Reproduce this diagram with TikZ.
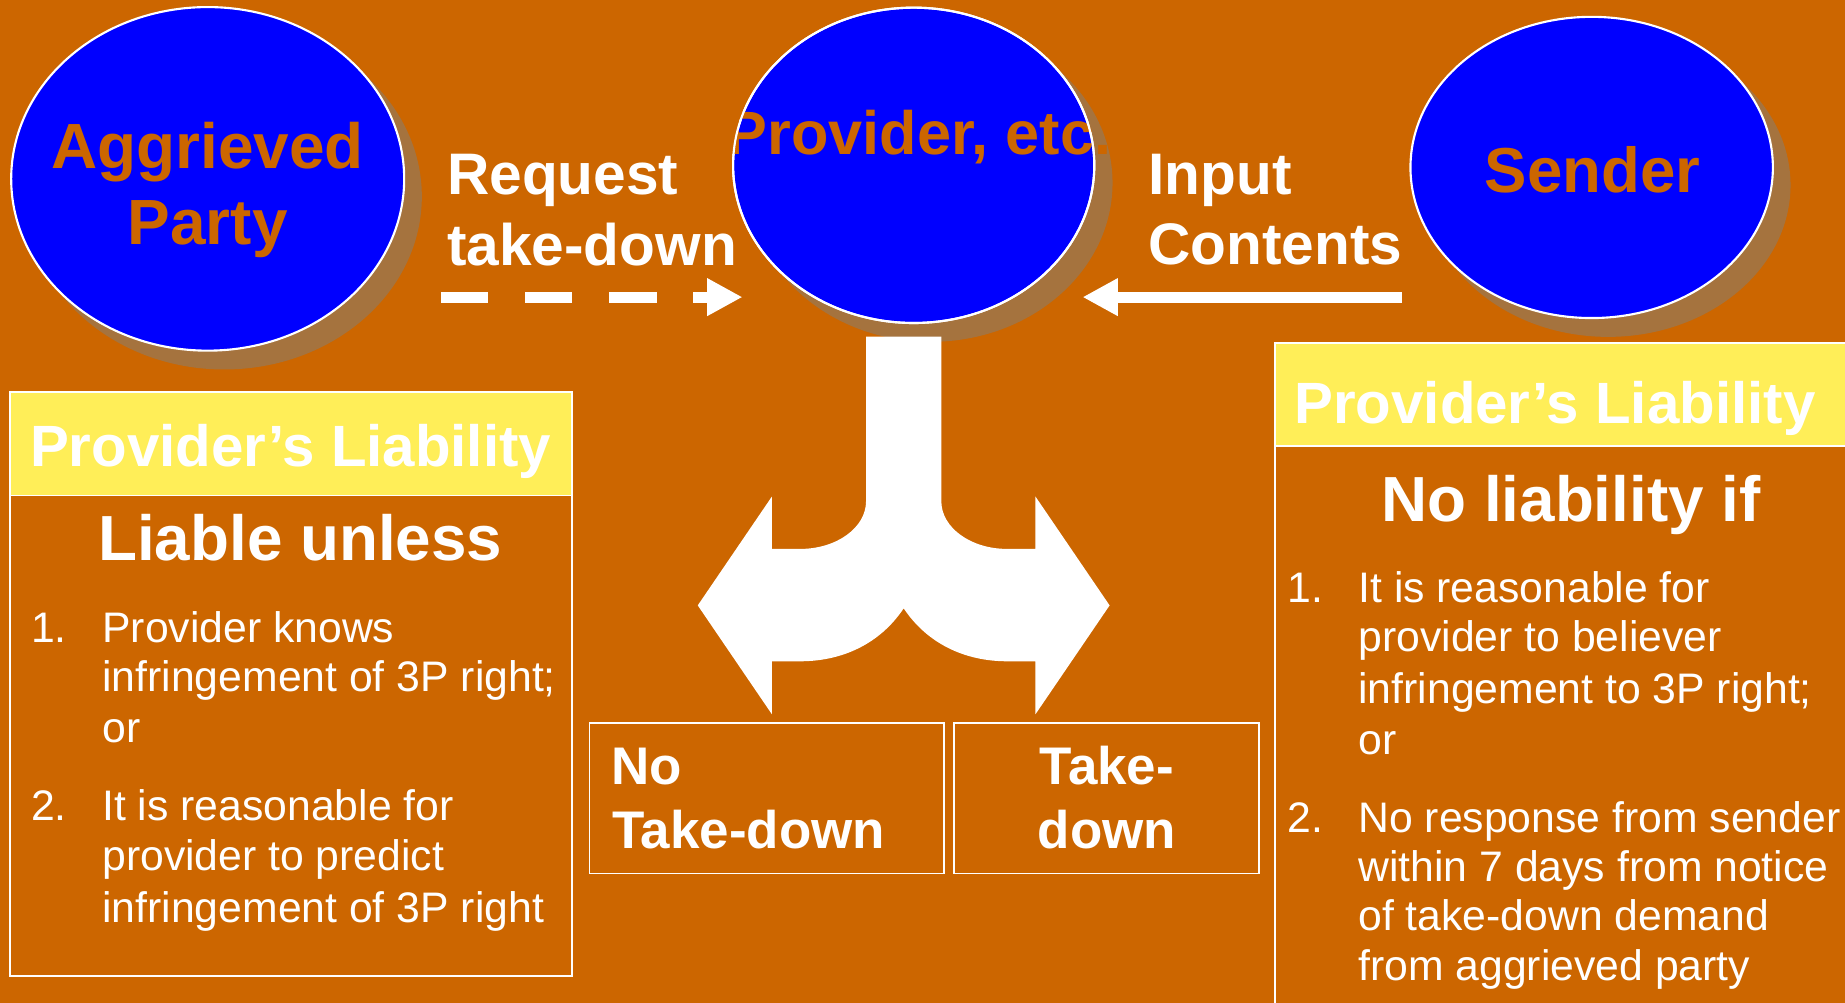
\documentclass[tikz,border=0pt]{standalone}
\usepackage{fontspec}
\setmainfont{Liberation Sans}
\usetikzlibrary{shapes.geometric,arrows.meta}
\definecolor{bg}{HTML}{CC6600}
\definecolor{shad}{HTML}{A5733E}
\definecolor{yel}{HTML}{FFEE58}
\definecolor{blu}{HTML}{0000FF}
\begin{document}
\begin{tikzpicture}[x=1pt,y=-1pt,
  every node/.style={inner sep=0pt, outer sep=0pt},
  bubble/.style={ellipse, fill=blu, draw=white, line width=1.8pt},
  ring/.style={ellipse, draw=white, line width=1.8pt},
  bshadow/.style={ellipse, fill=shad},
  bubtext/.style={text=bg, anchor=base, font=\bfseries\fontsize{54.3}{60}\selectfont},
  lbl/.style={text=white, anchor=base west, font=\bfseries\fontsize{49.8}{55}\selectfont},
  headtxt/.style={text=white, anchor=base west, font=\bfseries\fontsize{49.5}{55}\selectfont},
  subtxt/.style={text=white, anchor=base west, font=\bfseries\fontsize{54.2}{60}\selectfont},
  itemtxt/.style={text=white, anchor=base west, font=\fontsize{36.3}{43}\selectfont},
  outtxt/.style={text=white, anchor=base west, font=\bfseries\fontsize{45}{54}\selectfont},
  panel/.style={rectangle, draw=white, line width=1.5pt, anchor=north west},
  headbar/.style={rectangle, fill=yel, draw=white, line width=1.5pt, anchor=north west},
  arr/.style={white, line width=9.3pt, -{Triangle[length=30pt 0, width=30pt 0]}}
]
\useasboundingbox (0,0) rectangle (1568,852);
\clip (0,0) rectangle (1568,852);
\fill[bg] (0,0) rectangle (1568,852);

% shadows
\node[bshadow, minimum width=336pt, minimum height=294pt] (aggsh) at (190.5,167) {};
\node[bshadow, minimum width=309pt, minimum height=270pt] (provsh) at (791,155.5) {};
\node[bshadow, minimum width=310pt, minimum height=258pt] (sendsh) at (1366.7,157.3) {};

% bubbles
\node[bubble, minimum width=334pt, minimum height=292pt] (agg) at (176.5,152) {};
\node[bubble, minimum width=307pt, minimum height=268pt] (prov) at (776.5,140.5) {};
\node[bubble, minimum width=308pt, minimum height=256pt] (send) at (1352.7,142.3) {};

\node[bubtext] (aggt1) at (176.5,143) {Aggrieved};
\node[bubtext] (aggt2) at (176.5,208.2) {Party};
\node[bubtext, font=\bfseries\fontsize{52}{56}\selectfont] (provt) at (781,131.7) {Provider, etc.};
\node[ring, minimum width=307pt, minimum height=268pt] (provring) at (prov.center) {};
\node[bubtext, font=\bfseries\fontsize{54}{60}\selectfont] (sendt) at (1353.4,163.5) {Sender};

% arrow labels
\node[lbl] (req1) at (380,165.7) {Request};
\node[lbl] (req2) at (380,225.8) {take-down};
\node[lbl] (inp1) at (976,165.7) {Input};
\node[lbl] (inp2) at (976,225.2) {Contents};

% arrows
\coordinate (reqS) at (374.7,252.5);
\coordinate (reqE) at (631,252.5);
\coordinate (inS) at (1191.3,252.5);
\coordinate (inE) at (920,252.5);
\draw[arr, dash pattern=on 40.3pt off 31.2pt] (reqS) -- (reqE);
\draw[arr] (inS) -- (inE);

% branching arrow
\fill[white] (736,286) -- (736,426) .. controls (736,448.4) and (711,466.5) .. (680,466.5)
  -- (656,466.5) -- (656,422) -- (593,514.5) -- (656,607) -- (656,562) -- (680,562)
  .. controls (716,562) and (748,547) .. (768,517)
  .. controls (788,547) and (820,562) .. (856,562)
  -- (880,562) -- (880,607) -- (943,514.5) -- (880,422) -- (880,466.5) -- (856,466.5)
  .. controls (825,466.5) and (800,448.4) .. (800,426) -- (800,286) -- cycle;

% outcome boxes
\node[panel, minimum width=301pt, minimum height=128pt] (notd) at (501,614.3) {};
\node[panel, minimum width=259pt, minimum height=128pt] (td) at (811,614.3) {};
\node[outtxt] (notd1) at (519.5,667) {No};
\node[outtxt] (notd2) at (520.5,721) {Take-down};
\node[outtxt] (td1) at (883.5,667) {Take-};
\node[outtxt] (td2) at (882,721) {down};

% left panel
\node[panel, minimum width=477pt, minimum height=496.5pt] (lp) at (8.8,333) {};
\node[headbar, minimum width=477pt, minimum height=88pt] (lph) at (8.8,333) {};
\node[headtxt] (lpht) at (25.5,396.5) {Provider’s Liability};
\node[subtxt] (lps) at (83.5,476.6) {Liable unless};
\node[itemtxt] (l1n) at (26.5,545.8) {1.};
\node[itemtxt] (l1a) at (87,545.8) {Provider knows};
\node[itemtxt] (l1b) at (87,588) {infringement of 3P right;};
\node[itemtxt] (l1c) at (87,630.8) {or};
\node[itemtxt] (l2n) at (26.5,697) {2.};
\node[itemtxt] (l2a) at (87,697) {It is reasonable for};
\node[itemtxt] (l2b) at (87,740) {provider to predict};
\node[itemtxt] (l2c) at (87,783.8) {infringement of 3P right};

% right panel
\node[panel, minimum width=520pt, minimum height=620pt] (rp) at (1083.5,291.5) {};
\node[headbar, minimum width=520pt, minimum height=87.5pt] (rph) at (1083.5,291.5) {};
\node[headtxt] (rpht) at (1100,360) {Provider’s Liability};
\node[subtxt] (rps) at (1174,442.8) {No liability if};
\node[itemtxt] (r1n) at (1094.5,512) {1.};
\node[itemtxt] (r1a) at (1154.5,512) {It is reasonable for};
\node[itemtxt] (r1b) at (1154.5,554) {provider to believer};
\node[itemtxt] (r1c) at (1154.5,597.8) {infringement to 3P right;};
\node[itemtxt] (r1d) at (1154.5,641.5) {or};
\node[itemtxt] (r2n) at (1094.5,707.2) {2.};
\node[itemtxt] (r2a) at (1154.5,707.2) {No response from sender};
\node[itemtxt] (r2b) at (1154.5,749) {within 7 days from notice};
\node[itemtxt] (r2c) at (1154.5,791) {of take-down demand};
\node[itemtxt] (r2d) at (1154.5,833) {from aggrieved party};
\end{tikzpicture}
\end{document}
